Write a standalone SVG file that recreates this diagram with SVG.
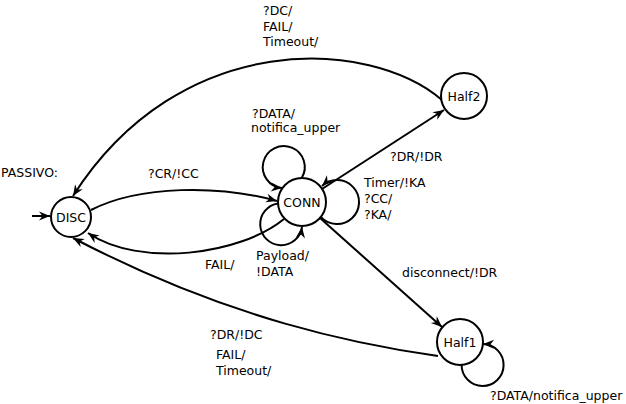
<svg xmlns="http://www.w3.org/2000/svg" width="626" height="404" viewBox="0 0 626 404">
<style>
text{font-family:"DejaVu Sans","Liberation Sans",sans-serif;font-size:12.5px;fill:#000}
.n{text-anchor:middle}
.st{fill:#fff;stroke:#000;stroke-width:2}
.e{fill:none;stroke:#000;stroke-width:2;marker-end:url(#ah)}
</style>
<defs>
<marker id="ah" viewBox="-12 -6 13 12" refX="0" refY="0" markerWidth="13" markerHeight="12" markerUnits="userSpaceOnUse" orient="auto">
<path d="M0,0 L-11,-4.5 L-7.5,0 L-11,4.5 Z" fill="#000"/>
</marker>
</defs>
<rect width="626" height="404" fill="#fff"/>
<g id="connectors">
<path class="e" d="M32,216 L50,216"/>
<path class="e" d="M91,210 C140,185 220,185 277,201"/>
<path class="e" d="M284,219 C240,255 140,268 88,233"/>
<path class="e" d="M322,189 L444,110"/>
<path class="e" d="M320,218 L442,327"/>
<path class="e" d="M442,100 C370,38 180,28 73,196"/>
<path class="e" d="M438,356 C360,345 230,320 73,238"/>
<path class="e" d="M301.7,178 A21,21 0 1 0 282,188"/>
<path class="e" d="M320.8,216.9 A22,22 0 1 0 322,186"/>
<path class="e" d="M278.1,203.4 A21,21 0 1 0 302,227"/>
<path class="e" d="M461.6,365 A21,21 0 1 0 483,344"/>
</g>
<g id="DISC"><circle class="st" cx="71" cy="217" r="20"/><text class="n" x="71" y="221.5">DISC</text></g>
<g id="CONN"><circle class="st" cx="302" cy="202" r="24"/><text class="n" x="302" y="206.5">CONN</text></g>
<g id="Half2"><circle class="st" cx="464" cy="96" r="23"/><text class="n" x="464" y="100.5">Half2</text></g>
<g id="Half1"><circle class="st" cx="460" cy="342" r="23"/><text class="n" x="460" y="346.5">Half1</text></g>
<g id="labels">
<text x="1" y="177">PASSIVO:</text>
<text x="148" y="178">?CR/!CC</text>
<text x="205" y="269">FAIL/</text>
<text x="252" y="118">?DATA/</text>
<text x="251" y="132">notifica_upper</text>
<text x="364" y="187">Timer/!KA</text>
<text x="364" y="203">?CC/</text>
<text x="364" y="219">?KA/</text>
<text x="256" y="260">Payload/</text>
<text x="256" y="276">!DATA</text>
<text x="390" y="161">?DR/!DR</text>
<text x="402" y="277">disconnect/!DR</text>
<text x="263" y="15">?DC/</text>
<text x="263" y="30.5">FAIL/</text>
<text x="263" y="46">Timeout/</text>
<text x="210" y="339">?DR/!DC</text>
<text x="216" y="359">FAIL/</text>
<text x="216" y="375">Timeout/</text>
<text x="490" y="400">?DATA/notifica_upper</text>
</g>
</svg>
